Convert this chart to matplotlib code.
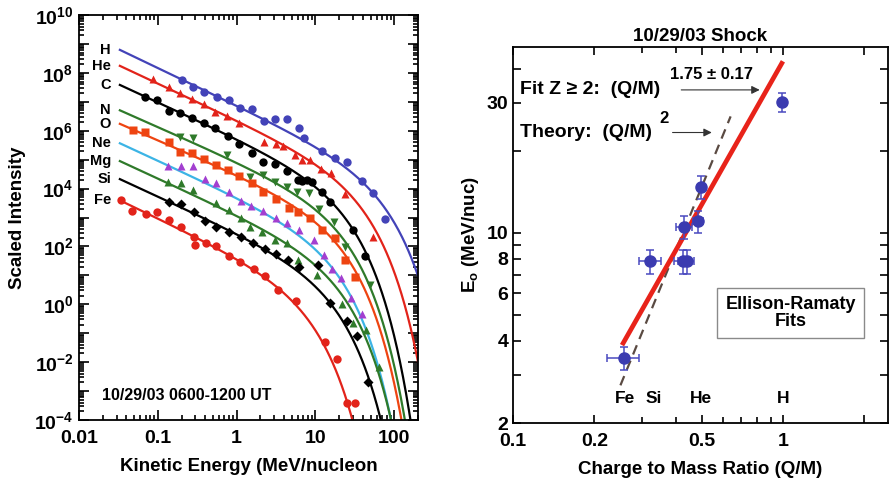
import numpy as np
import matplotlib.pyplot as plt
from matplotlib.ticker import FixedLocator, FixedFormatter, NullFormatter

plt.rcParams['font.family'] = ['Liberation Sans', 'DejaVu Sans']
plt.rcParams['font.weight'] = 'bold'
plt.rcParams['axes.labelweight'] = 'bold'
plt.rcParams['axes.titleweight'] = 'bold'
plt.rcParams['mathtext.fontset'] = 'custom'
plt.rcParams['mathtext.rm'] = 'Liberation Sans:bold'
plt.rcParams['mathtext.it'] = 'Liberation Sans:bold'
plt.rcParams['mathtext.bf'] = 'Liberation Sans:bold'
plt.rcParams['axes.linewidth'] = 1.3

# ---- left panel: spectra (energy in MeV/nucleon, scaled intensity) ----
species = ['H', 'He', 'C', 'N', 'O', 'Ne', 'Mg', 'Si', 'Fe']

H_E = [0.20, 0.28, 0.39, 0.56, 0.79, 1.1, 1.56, 2.2, 3.1, 4.4, 6.2, 7.2, 12, 17.7, 25, 39, 54, 76]
H_J = [5.6e7, 3.2e7, 2.2e7, 1.45e7, 1.15e7, 6.0e6, 5.5e6, 2.2e6, 2.5e6, 2.5e6, 1.2e6, 5.5e5,
       2.0e5, 1.1e5, 8.1e4, 1.8e4, 6.9e3, 8.9e2]
He_E = [0.088, 0.14, 0.19, 0.27, 0.38, 0.53, 0.75, 1.08, 2.2, 3.2, 3.9, 5.5, 6.7, 8.5, 11.7,
        15.8, 23.8, 54]
He_J = [6.2e7, 3.3e7, 2.0e7, 1.26e7, 8.1e6, 4.6e6, 3.1e6, 1.9e6, 4.2e5, 3.5e5, 3.0e5, 1.45e5,
        1.0e5, 9.8e4, 4.7e4, 3.4e4, 6.5e3, 2.2e2]
C_E = [0.069, 0.097, 0.14, 0.19, 0.27, 0.385, 0.53, 0.785, 1.08, 1.56, 2.18, 3.07, 4.32, 6.07,
       6.7, 7.75, 8.97, 12.0, 15.3, 29.7, 42.6]
C_J = [1.5e7, 1.15e7, 4.8e6, 4.2e6, 2.7e6, 1.9e6, 1.2e6, 6.8e5, 3.5e5, 1.66e5, 8.5e4, 7.1e4,
       4.1e4, 2.0e4, 1.8e4, 2.0e4, 1.74e4, 7.8e3, 3.5e3, 3.7e2, 47]
N_E = [0.19, 0.28, 0.76, 1.47, 2.18, 3.07, 4.32, 5.78, 8.18, 11.2, 17.2, 23.8, 49]
N_J = [6.2e5, 5.5e5, 1.45e5, 2.6e4, 3.0e4, 1.74e4, 1.17e4, 7.4e3, 6.9e3, 1.9e3, 7.2e2, 98, 4.7]
O_E = [0.049, 0.069, 0.14, 0.19, 0.27, 0.385, 0.55, 0.785, 1.08, 1.56, 2.18, 3.2, 4.55, 6.07,
       8.53, 12.0, 17.7, 23.8, 31.8]
O_J = [1.05e6, 9.3e5, 4.2e5, 1.86e5, 1.66e5, 1.02e5, 6.6e4, 4.4e4, 2.7e4, 1.58e4, 7.6e3, 4.3e3,
       2.2e3, 1.5e3, 1.0e3, 3.7e2, 1.9e2, 34, 9.0]
Ne_E = [0.136, 0.195, 0.28, 0.40, 0.55, 0.80, 1.13, 1.51, 2.18, 3.12, 4.38, 6.2, 9.6, 13.0, 16.2,
        21.1, 28.5, 38.6]
Ne_J = [6.2e4, 5.8e4, 5.8e4, 2.1e4, 1.5e4, 7.8e3, 3.8e3, 2.5e3, 1.66e3, 9.3e2, 6.6e2, 3.7e2,
        1.66e2, 50, 16, 8.3, 1.7, 0.45]
Mg_E = [0.136, 0.195, 0.28, 0.55, 0.80, 1.13, 1.49, 2.1, 3.07, 4.32, 5.92, 10.4, 21.5, 30.3, 43.9,
        64.7]
Mg_J = [1.74e4, 1.5e4, 8.9e3, 3.1e3, 1.8e3, 9.5e2, 4.6e2, 3.2e2, 1.66e2, 1.29e2, 34, 10, 1.0,
        0.22, 0.13, 0.0069]
Si_E = [0.139, 0.195, 0.287, 0.397, 0.552, 0.80, 1.13, 1.6, 2.3, 3.2, 4.5, 6.2, 10.9, 15.3, 25,
        34, 46.9]
Si_J = [3.5e3, 3.0e3, 1.6e3, 7.8e2, 4.8e2, 3.2e2, 2.1e2, 1.3e2, 80, 55, 35, 20, 23, 1.1, 0.27,
        0.079, 0.0021]
Fe_E = [0.034, 0.0475, 0.070, 0.099, 0.139, 0.195, 0.288, 0.297, 0.407, 0.542, 0.80, 1.10, 1.64,
        2.27, 3.37, 5.61, 13.3, 18.8, 25, 31.8]
Fe_J = [4.1e3, 1.66e3, 1.3e3, 1.5e3, 8.1e2, 4.6e2, 2.1e2, 1.1e2, 1.3e2, 1.05e2, 47, 30, 16, 9.5,
        3.1, 1.3, 0.051, 0.0126, 3.8e-4, 4.0e-4]

# Ellison-Ramaty fit parameters: J = A * E^-gamma * exp(-E/E0)
fit_A = [7.4e6, 2.3e6, 5.4e5, 8.5e4, 3.1e4, 5.2e3, 1.26e3, 3.0e2, 47]
fit_gamma = [1.3, 1.27, 1.25, 1.2, 1.18, 1.25, 1.25, 1.25, 1.3]
fit_E0 = [30, 16, 10, 9.3, 8.9, 7.5, 8.5, 7.0, 3.4]

data_E = [H_E, He_E, C_E, N_E, O_E, Ne_E, Mg_E, Si_E, Fe_E]
data_J = [H_J, He_J, C_J, N_J, O_J, Ne_J, Mg_J, Si_J, Fe_J]
line_colors = ['#4343b8', '#e2231a', 'black', '#2f7a2a', '#ee4411', '#3cb4e5', '#2f7a2a', 'black', '#e2231a']
mark_colors = ['#4343b8', '#e2231a', 'black', '#2f7a2a', '#ee4411', '#a23fd0', '#2f7a2a', 'black', '#e2231a']
markers = ['o', '^', 'o', 'v', 's', '^', '^', 'D', 'o']

# ---- right panel: cutoff energy vs Q/M ----
qm = [0.258, 0.322, 0.425, 0.440, 0.431, 0.486, 0.497, 0.99]
qm_err = [0.035, 0.03, 0.03, 0.03, 0.03, 0.02, 0.012, 0.0]
e0 = [3.46, 7.84, 7.84, 7.84, 10.5, 11.0, 14.7, 30.1]
e0_err = [0.33, 0.8, 0.8, 0.8, 1.0, 1.0, 1.4, 2.5]
fit_qm = [0.256, 0.99]
fit_e0 = [3.93, 41.8]
theory_qm = [0.25, 0.64]
theory_e0 = [2.75, 26.7]
elem_names = ['Fe', 'Si', 'He', 'H']
elem_qm = [0.26, 0.333, 0.496, 1.0]

fig = plt.figure(figsize=(8.9, 4.78), dpi=100)

ax = fig.add_axes([79 / 890, 58 / 478, 339 / 890, 405 / 478])
ax.set_xscale('log')
ax.set_yscale('log')
ax.set_xlim(0.01, 200)
ax.set_ylim(1e-4, 1e10)

Egrid = np.logspace(np.log10(0.033), np.log10(200), 400)
for i, name in enumerate(species):
    curve = fit_A[i] * Egrid ** (-fit_gamma[i]) * np.exp(-Egrid / fit_E0[i])
    ax.plot(Egrid, curve, color=line_colors[i], lw=1.6, zorder=2)
    ms = 5 if markers[i] == 'D' else 6
    ax.plot(data_E[i], data_J[i], ls='none', marker=markers[i], color=mark_colors[i],
            ms=ms, mec='none', zorder=3)
    ax.text(0.0255, curve[0], name, ha='right', va='center', fontsize=10.5)

ax.text(0.0195, 7.3e-4, '10/29/03 0600-1200 UT', fontsize=11.5, ha='left', va='center')

ydec = list(range(-4, 11))
ax.yaxis.set_major_locator(FixedLocator([10.0 ** d for d in ydec]))
ax.yaxis.set_major_formatter(FixedFormatter(
    [r'$10^{%d}$' % d if d % 2 == 0 else '' for d in ydec]))
ax.yaxis.set_minor_locator(FixedLocator([m * 10.0 ** d for d in ydec[:-1] for m in range(2, 10)]))
ax.yaxis.set_minor_formatter(NullFormatter())
xdec = [-2, -1, 0, 1, 2]
ax.xaxis.set_major_locator(FixedLocator([10.0 ** d for d in xdec]))
ax.xaxis.set_major_formatter(FixedFormatter(['0.01', '0.1', '1', '10', '100']))
ax.xaxis.set_minor_locator(FixedLocator([m * 10.0 ** d for d in xdec for m in range(2, 10)]))
ax.xaxis.set_minor_formatter(NullFormatter())
ax.tick_params(which='both', direction='in', top=True, right=True, labelsize=14, width=1.2)
ax.tick_params(which='major', length=7)
ax.tick_params(which='minor', length=3.5)
ax.tick_params(axis='x', pad=7)
ax.tick_params(axis='y', pad=4)
ax.set_xlabel('Kinetic Energy (MeV/nucleon', fontsize=13.5, labelpad=8)
ax.set_ylabel('Scaled Intensity', fontsize=13.5, labelpad=6)

# right panel
ax2 = fig.add_axes([513 / 890, 55 / 478, 375 / 890, 376 / 478])
ax2.set_xscale('log')
ax2.set_yscale('log')
ax2.set_xlim(0.1, 2.45)
ax2.set_ylim(2, 48)

ax2.plot(theory_qm, theory_e0, ls=(0, (4.5, 3)), color='#5a4a42', lw=1.6, zorder=2)
ax2.plot(fit_qm, fit_e0, color='#e8231a', lw=3.4, zorder=3)
ax2.errorbar(qm, e0, xerr=qm_err, yerr=e0_err, fmt='o', color='#3b3bb0', ms=8,
             ecolor='#4a4ac0', elinewidth=1.1, capsize=3, capthick=1.1, zorder=4)

for nm, q in zip(elem_names, elem_qm):
    ax2.text(q, 2.47, nm, ha='center', va='center', fontsize=12.5)

ax2.text(0.106, 33.5, 'Fit Z \u2265 2:  (Q/M)', fontsize=14, ha='left', va='center')
ax2.text(0.383, 38.0, '1.75 \u00b1 0.17', fontsize=12, ha='left', va='center')
ax2.annotate('', xy=(0.82, 33.4), xytext=(0.42, 33.4),
             arrowprops=dict(arrowstyle='-|>', color='#333333', lw=0.8,
                             mutation_scale=12, shrinkA=0, shrinkB=0))
ax2.text(0.106, 23.3, 'Theory:  (Q/M)', fontsize=14, ha='left', va='center')
ax2.text(0.349, 26.3, '2', fontsize=12, ha='left', va='center')
ax2.annotate('', xy=(0.545, 23.3), xytext=(0.39, 23.3),
             arrowprops=dict(arrowstyle='-|>', color='#333333', lw=0.8,
                             mutation_scale=12, shrinkA=0, shrinkB=0))

ax2.text(0.741, 0.293, 'Ellison-Ramaty\nFits', transform=ax2.transAxes, ha='center', va='center',
         fontsize=13, linespacing=1.0,
         bbox=dict(boxstyle='square,pad=0.45', fc='white', ec='#8a8a8a', lw=1.0))

ax2.xaxis.set_major_locator(FixedLocator([0.1, 0.2, 0.5, 1, 2]))
ax2.xaxis.set_major_formatter(FixedFormatter(['0.1', '0.2', '0.5', '1', '']))
ax2.xaxis.set_minor_locator(FixedLocator([0.3, 0.4, 0.6, 0.7, 0.8, 0.9]))
ax2.xaxis.set_minor_formatter(NullFormatter())
ax2.yaxis.set_major_locator(FixedLocator([2, 3, 4, 5, 6, 7, 8, 9, 10, 20, 30, 40]))
ax2.yaxis.set_major_formatter(FixedFormatter(['2', '', '4', '', '6', '', '8', '', '10', '', '30', '']))
ax2.yaxis.set_minor_locator(FixedLocator([]))
ax2.tick_params(which='both', direction='in', top=True, right=True, labelsize=14, width=1.2)
ax2.tick_params(which='major', length=6)
ax2.tick_params(which='minor', length=4)
ax2.tick_params(axis='x', pad=7)
ax2.set_xlabel('Charge to Mass Ratio (Q/M)', fontsize=13.5, labelpad=8)
ax2.set_ylabel(r'E$_\mathregular{o}$ (MeV/nuc)', fontsize=13.5, labelpad=4)
ax2.set_title('10/29/03 Shock', fontsize=13.5, pad=4)

fig.savefig('out.png', dpi=100)
